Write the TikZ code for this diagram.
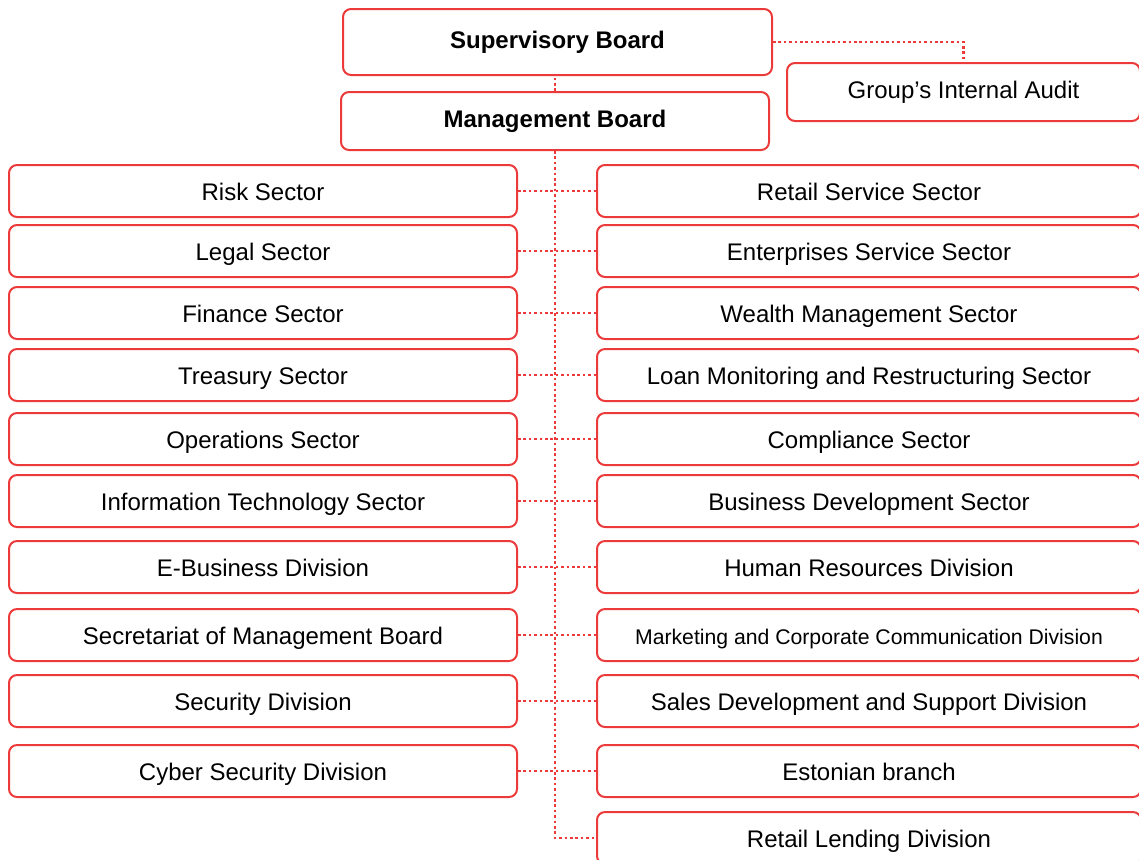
\documentclass[tikz,border=0pt]{standalone}
\usepackage{fontspec}
\setmainfont{Liberation Sans}
\usepackage{tikz}
\usetikzlibrary{positioning}
\definecolor{boardred}{RGB}{236,58,58}

\begin{document}
\begin{tikzpicture}[x=0.5pt, y=-0.5pt, font=\fontsize{12}{14}\selectfont,
  orgbox/.style={draw=boardred, line width=1pt, rounded corners=4pt, fill=white,
    inner sep=0pt, text height=10.1pt, text depth=0.9pt},
  leftbox/.style={orgbox, minimum width=254pt, minimum height=26pt},
  rightbox/.style={orgbox, minimum width=272pt, minimum height=26pt},
  boardbox/.style={orgbox, font=\fontsize{12}{14}\selectfont\bfseries, text height=8.6pt, text depth=2.4pt},
  link/.style={boardred, line width=1.3pt, dash pattern=on 1.3pt off 1.4pt}]
  \useasboundingbox (0,0) rectangle (1139,859);

  % Boards
  \node[boardbox, minimum width=214.5pt, minimum height=33pt] (super) at (557.5,42) {Supervisory Board};
  \node[boardbox, minimum width=214pt, minimum height=29pt] (mgmt) at (555,121) {Management Board};
  \node[orgbox, minimum width=176.5pt, minimum height=29pt, text height=8.6pt, text depth=2.4pt]
    (audit) at (963.5,92) {Group’s Internal Audit};

  % Left column
  \node[leftbox] (risk)    at (263,191) {Risk Sector};
  \node[leftbox] (legal)   at (263,251) {Legal Sector};
  \node[leftbox] (finance) at (263,313) {Finance Sector};
  \node[leftbox] (treas)   at (263,375) {Treasury Sector};
  \node[leftbox] (oper)    at (263,439) {Operations Sector};
  \node[leftbox] (itsec)   at (263,501) {Information Technology Sector};
  \node[leftbox] (ebiz)    at (263,567) {E-Business Division};
  \node[leftbox] (secret)  at (263,635) {Secretariat of Management Board};
  \node[leftbox] (secur)   at (263,701) {Security Division};
  \node[leftbox] (cyber)   at (263,771) {Cyber Security Division};

  % Right column
  \node[rightbox] (retail)  at (869,191) {Retail Service Sector};
  \node[rightbox] (enter)   at (869,251) {Enterprises Service Sector};
  \node[rightbox] (wealth)  at (869,313) {Wealth Management Sector};
  \node[rightbox] (loan)    at (869,375) {Loan Monitoring and Restructuring Sector};
  \node[rightbox] (compl)   at (869,439) {Compliance Sector};
  \node[rightbox] (busdev)  at (869,501) {Business Development Sector};
  \node[rightbox] (hr)      at (869,567) {Human Resources Division};
  \node[rightbox, font=\fontsize{10.6}{12}\selectfont] (market) at (869,635)
    {Marketing and Corporate Communication Division};
  \node[rightbox] (sales)   at (869,701) {Sales Development and Support Division};
  \node[rightbox] (eston)   at (869,771) {Estonian branch};
  \node[rightbox] (lending) at (869,838) {Retail Lending Division};

  % Links
  \draw[link] (super.east) -| (audit.north);
  \draw[link] (mgmt.north) -- (mgmt.north |- super.south);
  \draw[link] (mgmt.south) |- (lending.west);
  \draw[link] (risk.east) -- (retail.west);
  \draw[link] (legal.east) -- (enter.west);
  \draw[link] (finance.east) -- (wealth.west);
  \draw[link] (treas.east) -- (loan.west);
  \draw[link] (oper.east) -- (compl.west);
  \draw[link] (itsec.east) -- (busdev.west);
  \draw[link] (ebiz.east) -- (hr.west);
  \draw[link] (secret.east) -- (market.west);
  \draw[link] (secur.east) -- (sales.west);
  \draw[link] (cyber.east) -- (eston.west);
\end{tikzpicture}
\end{document}
